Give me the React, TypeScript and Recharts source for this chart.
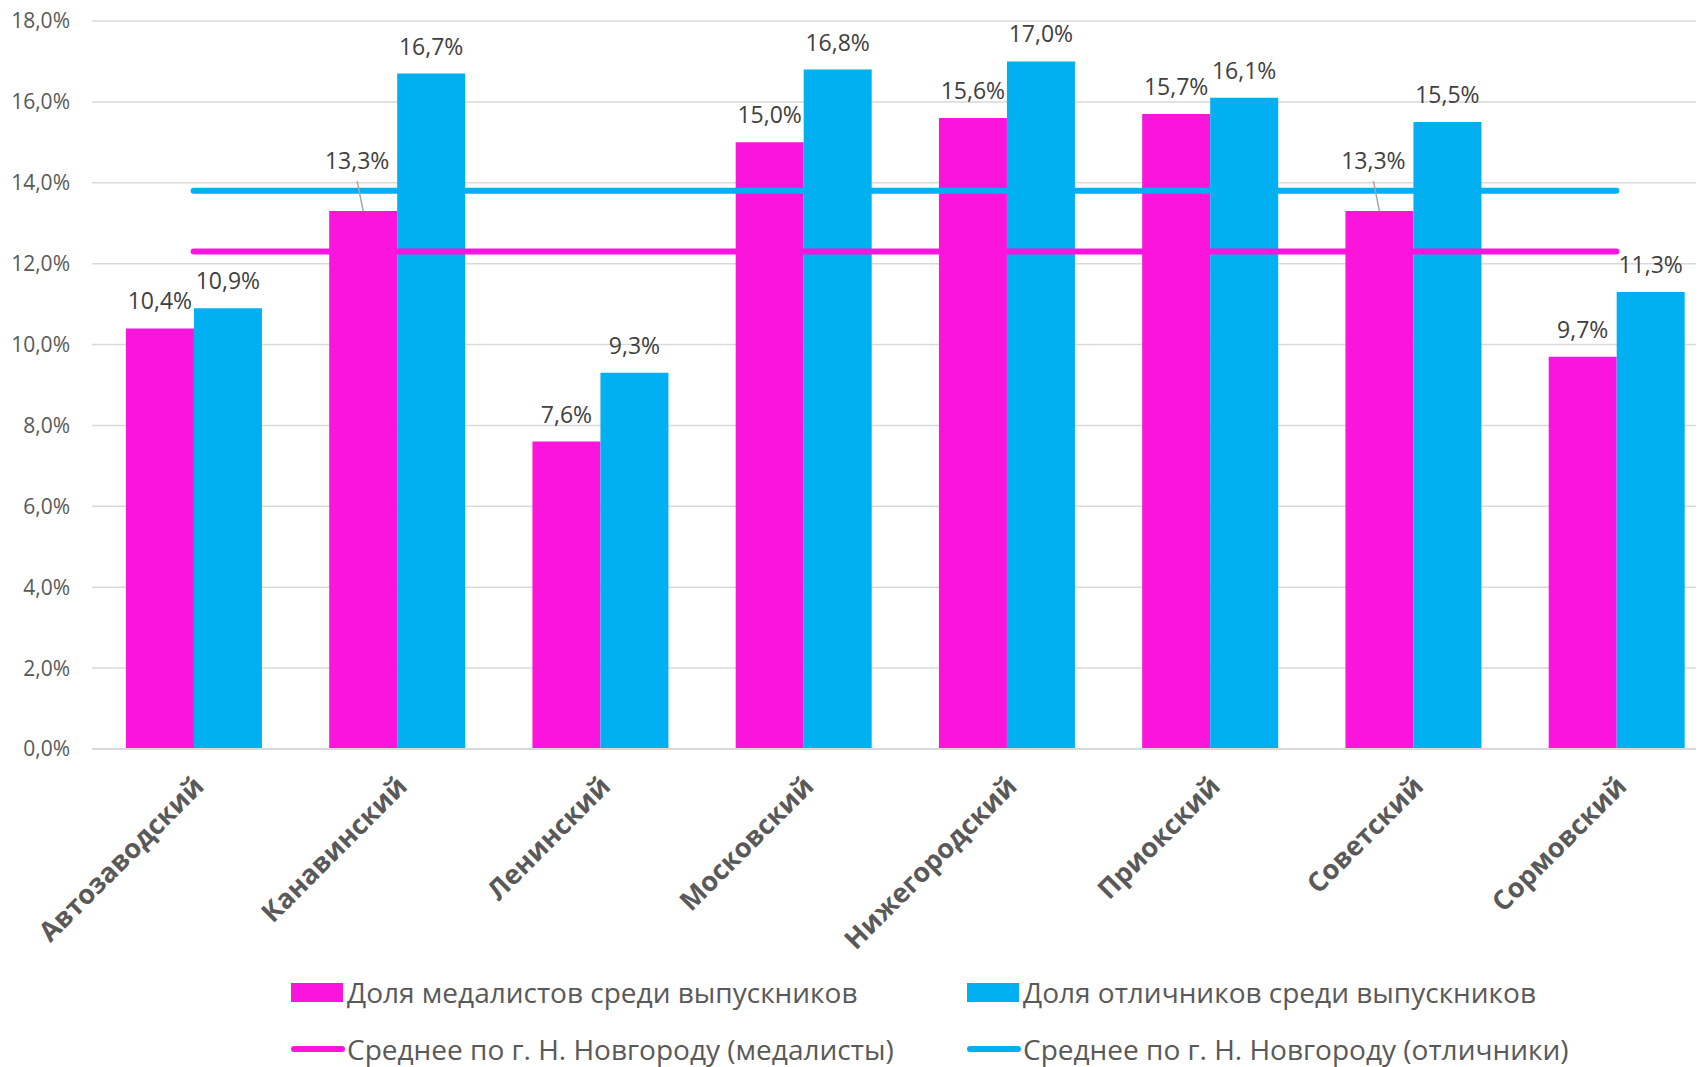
import React from 'react';
import { ComposedChart, Bar, Line, XAxis, YAxis, CartesianGrid, LabelList } from 'recharts';

const categories = ['Автозаводский', 'Канавинский', 'Ленинский', 'Московский', 'Нижегородский', 'Приокский', 'Советский', 'Сормовский'];
const medalists = [10.4, 13.3, 7.6, 15.0, 15.6, 15.7, 13.3, 9.7];
const excellent = [10.9, 16.7, 9.3, 16.8, 17.0, 16.1, 15.5, 11.3];
const avgMedalists = [12.3, 12.3, 12.3, 12.3, 12.3, 12.3, 12.3, 12.3];
const avgExcellent = [13.8, 13.8, 13.8, 13.8, 13.8, 13.8, 13.8, 13.8];
const yTicks = [0, 2, 4, 6, 8, 10, 12, 14, 16, 18];

const seriesNames = {
  med: 'Доля медалистов среди выпускников',
  exc: 'Доля отличников среди выпускников',
  avgMed: 'Среднее по г. Н. Новгороду (медалисты)',
  avgExc: 'Среднее по г. Н. Новгороду (отличники)',
};

const MAGENTA = '#FA14DC';
const CYAN = '#00B0F0';
const FONT = '"Open Sans", "Noto Sans", sans-serif';

const data = categories.map((c, i) => ({
  name: c,
  med: medalists[i],
  exc: excellent[i],
  avgMed: avgMedalists[i],
  avgExc: avgExcellent[i],
}));

const fmt = (v: number) => v.toFixed(1).replace('.', ',') + '%';

const makeLabel = (avgLine: number[] | null) => (props: any) => {
  const { x, y, width, value, index } = props;
  const cx = x + width / 2;
  const avg = avgLine ? avgLine[index] : null;
  const collide = avg != null && value < avg && value + 1.2 > avg;
  if (collide) {
    return (
      <g>
        <line x1={cx - 6} y1={y - 30} x2={cx} y2={y} stroke="#A6A6A6" strokeWidth={1.5} />
        <text x={cx - 6} y={y - 42} textAnchor="middle" fontSize={23} fontFamily={FONT} fill="#404040">
          {fmt(value)}
        </text>
      </g>
    );
  }
  return (
    <text x={cx} y={y - 19} textAnchor="middle" fontSize={23} fontFamily={FONT} fill="#404040">
      {fmt(value)}
    </text>
  );
};

const XTick = (props: any) => {
  const { x, y, payload } = props;
  return (
    <g transform={`translate(${x + 12},${y + 37})`}>
      <text transform="rotate(-45)" textAnchor="end" fontSize={27} fontWeight="bold" fontFamily={FONT} fill="#595959">
        {payload.value}
      </text>
    </g>
  );
};

const legendItems = [
  { key: 'med', type: 'rect', color: MAGENTA, left: 283, top: 984 },
  { key: 'exc', type: 'rect', color: CYAN, left: 959, top: 984 },
  { key: 'avgMed', type: 'line', color: MAGENTA, left: 283, top: 1041 },
  { key: 'avgExc', type: 'line', color: CYAN, left: 959, top: 1041 },
];

export default function App() {
  return (
    <div style={{ position: 'relative', width: 1696, height: 1059, overflow: 'hidden', background: '#fff' }}>
      <ComposedChart
        width={1720}
        height={1059}
        data={data}
        margin={{ top: 13, right: 10, left: 0, bottom: 0 }}
        barCategoryGap="16.7%"
        barGap={0}
      >
        <CartesianGrid vertical={false} stroke="#D9D9D9" strokeWidth={1.5} />
        <XAxis
          dataKey="name"
          height={318}
          interval={0}
          tickLine={false}
          tickSize={0}
          axisLine={{ stroke: '#D9D9D9', strokeWidth: 2 }}
          tick={<XTick />}
        />
        <YAxis
          width={84}
          domain={[0, 18]}
          ticks={yTicks}
          tickFormatter={fmt}
          axisLine={false}
          tickLine={false}
          tickSize={0}
          tickMargin={22}
          tick={{ fontSize: 21, fontFamily: FONT, fill: '#595959' }}
        />
        <Bar dataKey="med" fill={MAGENTA} isAnimationActive={false}>
          <LabelList dataKey="med" content={makeLabel(avgExcellent)} />
        </Bar>
        <Bar dataKey="exc" fill={CYAN} isAnimationActive={false}>
          <LabelList dataKey="exc" content={makeLabel(null)} />
        </Bar>
        <Line dataKey="avgMed" stroke={MAGENTA} strokeWidth={6} strokeLinecap="round" dot={false} activeDot={false} isAnimationActive={false} />
        <Line dataKey="avgExc" stroke={CYAN} strokeWidth={6} strokeLinecap="round" dot={false} activeDot={false} isAnimationActive={false} />
      </ComposedChart>
      {legendItems.map((it) => (
        <div
          key={it.key}
          style={{
            position: 'absolute',
            left: it.left,
            top: it.top - 15,
            height: 30,
            lineHeight: '30px',
            display: 'flex',
            alignItems: 'center',
            fontFamily: FONT,
            fontSize: 28,
            color: '#595959',
            whiteSpace: 'nowrap',
          }}
        >
          {it.type === 'rect' ? (
            <span style={{ display: 'inline-block', width: 52, height: 19, background: it.color, marginRight: 4 }} />
          ) : (
            <span style={{ display: 'inline-block', width: 54, height: 6, borderRadius: 3, background: it.color, marginRight: 2 }} />
          )}
          <span>{(seriesNames as any)[it.key]}</span>
        </div>
      ))}
    </div>
  );
}
